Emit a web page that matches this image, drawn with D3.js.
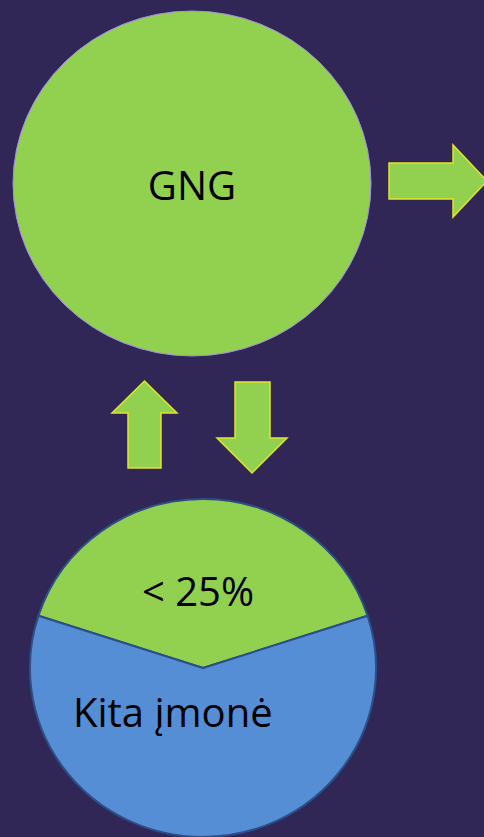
<!DOCTYPE html>
<html>
<head>
<meta charset="utf-8">
<script src="https://cdn.jsdelivr.net/npm/d3@7"></script>
<style>
  html, body { margin: 0; padding: 0; background: #312757; }
  svg { display: block; }
  text { font-family: "Open Sans", sans-serif; fill: #000; }
</style>
</head>
<body>
<div id="vis"></div>
<script>

// Data ----------------------------------------------------------------------

var topLabel = "GNG";
var pieLabels = ["< 25%", "Kita įmonė"];
var pieShares = [40, 60];              // slice sizes as drawn
var pieColors = ["#92d050", "#558ed5"];

// arrows: direction + box (x0, y0, x1, y1) + body edges + head base
var arrows = [
  {dir: "right", box: [389, 145, 487, 217], body: [163, 199], head: 453},
  {dir: "up",    box: [112, 381, 177, 468], body: [128, 161], head: 413},
  {dir: "down",  box: [217, 382, 287, 473], body: [235, 270], head: 438}
];


// Setup ---------------------------------------------------------------------

var width = 484,
    height = 837;

var svg = d3.select("#vis").append("svg")
  .attr("width", width)
  .attr("height", height);

svg.append("rect")
  .attr("width", width)
  .attr("height", height)
  .attr("fill", "#312757");


// Top circle ----------------------------------------------------------------

svg.append("ellipse")
  .attr("cx", 192)
  .attr("cy", 183.5)
  .attr("rx", 179)
  .attr("ry", 172.5)
  .attr("fill", "#92d050")
  .attr("stroke", "#a78bf0")
  .attr("stroke-width", 1);

svg.append("text")
  .attr("x", 192)
  .attr("y", 200)
  .attr("text-anchor", "middle")
  .style("font-size", "40px")
  .text(topLabel);


// Arrows --------------------------------------------------------------------

function arrowPath(a) {
  var b = a.box, p = d3.path();
  if (a.dir == "right") {
    var ym = (b[1] + b[3]) / 2;
    p.moveTo(b[0], a.body[0]);
    p.lineTo(a.head, a.body[0]);
    p.lineTo(a.head, b[1]);
    p.lineTo(b[2], ym);
    p.lineTo(a.head, b[3]);
    p.lineTo(a.head, a.body[1]);
    p.lineTo(b[0], a.body[1]);
  } else if (a.dir == "up") {
    var xm = (b[0] + b[2]) / 2;
    p.moveTo(a.body[0], b[3]);
    p.lineTo(a.body[0], a.head);
    p.lineTo(b[0], a.head);
    p.lineTo(xm, b[1]);
    p.lineTo(b[2], a.head);
    p.lineTo(a.body[1], a.head);
    p.lineTo(a.body[1], b[3]);
  } else {
    var xm = (b[0] + b[2]) / 2;
    p.moveTo(a.body[0], b[1]);
    p.lineTo(a.body[0], a.head);
    p.lineTo(b[0], a.head);
    p.lineTo(xm, b[3]);
    p.lineTo(b[2], a.head);
    p.lineTo(a.body[1], a.head);
    p.lineTo(a.body[1], b[1]);
  }
  p.closePath();
  return p.toString();
}

svg.selectAll(".arrow")
  .data(arrows)
  .enter().append("path")
  .attr("class", "arrow")
  .attr("d", arrowPath)
  .attr("fill", "#92d050")
  .attr("stroke", "#e3e32a")
  .attr("stroke-width", 1.5)
  .attr("stroke-linejoin", "miter");


// Bottom pie ----------------------------------------------------------------

var pieR = 169;

var pie = d3.pie()
  .sort(null)
  .startAngle(-0.4 * Math.PI)
  .endAngle(1.6 * Math.PI);

var arc = d3.arc()
  .innerRadius(0)
  .outerRadius(pieR);

// slightly wider than tall, like the source shape
var pieG = svg.append("g")
  .attr("transform", "translate(203,668) scale(1.024,1)");

pieG.selectAll(".slice")
  .data(pie(pieShares))
  .enter().append("path")
  .attr("class", "slice")
  .attr("d", arc)
  .attr("fill", function(d, i) { return pieColors[i]; })
  .attr("stroke", "#2b4f86")
  .attr("stroke-width", 2)
  .attr("stroke-linejoin", "round");

var labelG = svg.append("g")
  .attr("transform", "translate(203,668)");

labelG.append("text")
  .attr("x", -5)
  .attr("y", -62)
  .attr("text-anchor", "middle")
  .style("font-size", "40px")
  .text(pieLabels[0]);

labelG.append("text")
  .attr("x", -130)
  .attr("y", 59)
  .attr("text-anchor", "start")
  .style("font-size", "40px")
  .text(pieLabels[1]);

</script>
</body>
</html>
